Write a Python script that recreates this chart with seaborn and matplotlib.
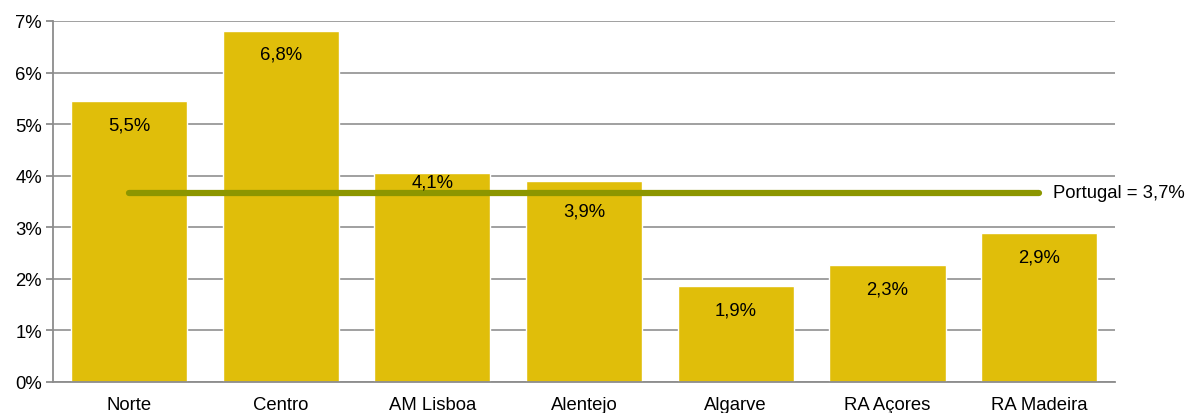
import matplotlib
matplotlib.use("Agg")
import matplotlib.pyplot as plt
import matplotlib.ticker as tkr
import numpy as np
import pandas as pd
import seaborn as sns

regioes = ["Norte", "Centro", "AM Lisboa", "Alentejo", "Algarve", "RA Açores", "RA Madeira"]
taxas = [5.45, 6.81, 4.05, 3.90, 1.86, 2.27, 2.89]
rotulos = ["5,5%", "6,8%", "4,1%", "3,9%", "1,9%", "2,3%", "2,9%"]
portugal = 3.67
portugal_txt = "Portugal = 3,7%"

sns.set_style("white")
plt.rcParams["font.family"] = ["Liberation Sans", "DejaVu Sans"]
plt.rcParams["text.color"] = "black"

df = pd.DataFrame({"regiao": regioes, "taxa": taxas})

fig = plt.figure(figsize=(11.86, 4.14), dpi=100)
ax = fig.add_axes([0.0447, 0.0749, 0.8955, 0.872])

sns.barplot(data=df, x="regiao", y="taxa", color="#E0BE0A", saturation=1,
            width=0.765, ax=ax, zorder=2)

# linha da media nacional
sns.lineplot(x=regioes, y=[portugal] * len(regioes), color="#8C9600", lw=4.5,
             ax=ax, zorder=3, solid_capstyle="round", sort=False)
ax.text(len(regioes) - 1 + 0.09, portugal, portugal_txt, va="center", ha="left",
        fontsize=13.3, color="black")

# rotulos dentro das barras (afastados da linha quando necessario)
desvio = {"4,1%": -6.5, "3,9%": -22}
for i, (v, r) in enumerate(zip(taxas, rotulos)):
    off = desvio.get(r, -17)
    ax.annotate(r, (i, v), xytext=(0, off), textcoords="offset points",
                ha="center", va="center", fontsize=13.3, color="black", zorder=4)

ax.set_ylim(0, 7)
ax.set_xlim(-0.5, len(regioes) - 0.5)
ax.yaxis.set_major_locator(tkr.MultipleLocator(1))
ax.yaxis.set_major_formatter(tkr.FuncFormatter(lambda v, p: "%d%%" % v))
ax.grid(axis="y", color="#999999", lw=1.3, zorder=0)
ax.set_axisbelow(True)

for s in ["top", "right"]:
    ax.spines[s].set_visible(False)
for s in ["left", "bottom"]:
    ax.spines[s].set_color("#8C8C8C")
    ax.spines[s].set_linewidth(1.3)

ax.set_xticks(np.arange(len(regioes)))
ax.set_xticklabels(regioes)
ax.set_xticks(np.arange(len(regioes) + 1) - 0.5, minor=True)
ax.tick_params(axis="x", which="major", length=0, pad=10, labelsize=13.3, labelcolor="black")
ax.tick_params(axis="x", which="minor", length=5, width=1.3, color="#8C8C8C", direction="out")
ax.tick_params(axis="y", length=5, width=1.3, color="#8C8C8C", direction="out",
               left=True, labelsize=13.3, pad=3, labelcolor="black")
ax.set_xlabel("")
ax.set_ylabel("")

fig.savefig("out.png", dpi=100)
